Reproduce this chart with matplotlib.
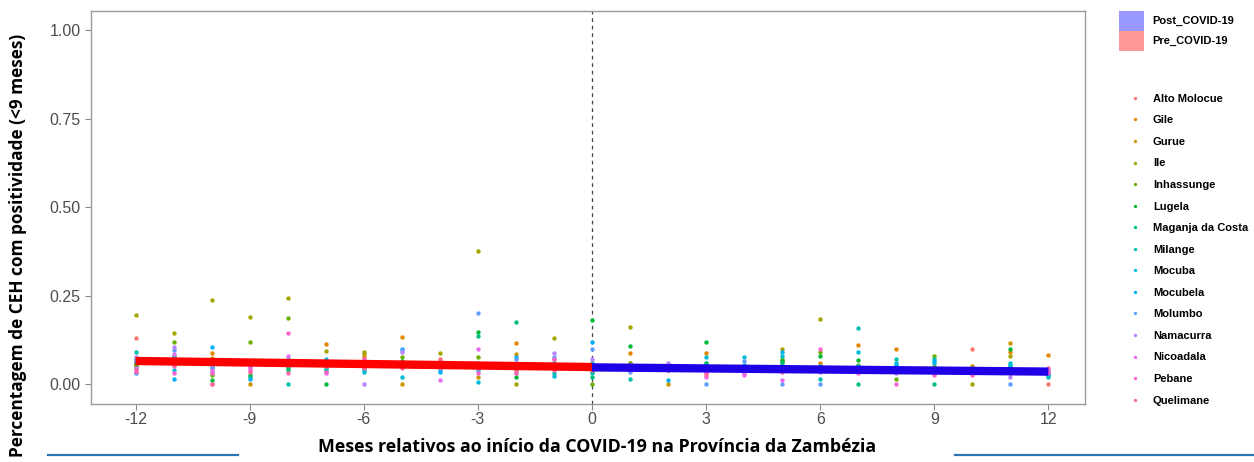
import matplotlib
matplotlib.use("Agg")
import matplotlib.pyplot as plt
from matplotlib.patches import Patch
from matplotlib.lines import Line2D

plt.rcParams["axes.unicode_minus"] = False

# meses relativos ao inicio da COVID-19
meses = list(range(-12, 13))

distritos = ["Alto Molocue", "Gile", "Gurue", "Ile", "Inhassunge", "Lugela",
             "Maganja da Costa", "Milange", "Mocuba", "Mocubela", "Molumbo",
             "Namacurra", "Nicoadala", "Pebane", "Quelimane"]

cores = ["#F8766D", "#E58700", "#C99800", "#A3A500", "#6BB100", "#00BA38",
         "#00BF7D", "#00C0AF", "#00BCD8", "#00B0F6", "#619CFF", "#B983FF",
         "#E76BF3", "#FD61D1", "#FF67A4"]

# proporcao de CEH positivas por distrito
alto_molocue = [0.13, 0.07, 0.0, 0.05, 0.05, 0.05, 0.05, 0.05, 0.07, 0.05, 0.04, 0.06, 0.05,
                0.05, 0.045, 0.03, 0.045, 0.045, 0.05, 0.045, 0.045, 0.04, 0.1, 0.04, 0.0]
gile = [0.06, 0.075, 0.088, 0.06, 0.05, 0.113, 0.075, 0.133, 0.05, 0.045, 0.115, 0.055, 0.06,
        0.087, 0.04, 0.088, 0.05, 0.065, 0.06, 0.11, 0.1, 0.045, 0.05, 0.09, 0.082]
gurue = [0.055, 0.06, 0.073, 0.0, 0.055, 0.055, 0.085, 0.0, 0.045, 0.02, 0.085, 0.07, 0.045,
         0.06, 0.0, 0.045, 0.04, 0.05, 0.045, 0.05, 0.05, 0.035, 0.045, 0.115, 0.035]
ile = [0.195, 0.145, 0.237, 0.19, 0.243, 0.093, 0.09, 0.06, 0.087, 0.376, 0.0, 0.13, 0.035,
       0.16, 0.05, 0.05, 0.045, 0.1, 0.183, 0.04, 0.045, 0.05, 0.0, 0.08, 0.03]
inhassunge = [0.05, 0.12, 0.025, 0.12, 0.187, 0.06, 0.06, 0.075, 0.06, 0.075, 0.03, 0.05, 0.0,
              0.06, 0.045, 0.06, 0.04, 0.07, 0.09, 0.055, 0.015, 0.08, 0.035, 0.035, 0.035]
lugela = [0.06, 0.055, 0.012, 0.025, 0.045, 0.0, 0.055, 0.065, 0.055, 0.147, 0.02, 0.05, 0.18,
          0.107, 0.05, 0.12, 0.05, 0.065, 0.08, 0.068, 0.04, 0.04, 0.04, 0.1, 0.03]
maganja = [0.045, 0.065, 0.035, 0.02, 0.04, 0.04, 0.045, 0.055, 0.06, 0.135, 0.175, 0.045, 0.02,
           0.045, 0.045, 0.06, 0.045, 0.06, 0.04, 0.0, 0.045, 0.0, 0.045, 0.05, 0.025]
milange = [0.09, 0.08, 0.05, 0.065, 0.0, 0.045, 0.04, 0.05, 0.05, 0.06, 0.045, 0.03, 0.03,
           0.015, 0.04, 0.05, 0.055, 0.045, 0.015, 0.158, 0.07, 0.07, 0.04, 0.055, 0.02]
mocuba = [0.07, 0.04, 0.045, 0.055, 0.065, 0.07, 0.035, 0.02, 0.04, 0.005, 0.05, 0.022, 0.06,
          0.05, 0.045, 0.075, 0.075, 0.08, 0.05, 0.09, 0.06, 0.06, 0.035, 0.06, 0.025]
mocubela = [0.03, 0.015, 0.105, 0.015, 0.07, 0.065, 0.065, 0.1, 0.035, 0.04, 0.075, 0.06, 0.12,
            0.04, 0.01, 0.045, 0.045, 0.09, 0.04, 0.05, 0.055, 0.065, 0.04, 0.045, 0.03]
molumbo = [0.065, 0.095, 0.06, 0.065, 0.06, 0.06, 0.06, 0.095, 0.055, 0.2, 0.07, 0.075, 0.1,
           0.035, 0.05, 0.0, 0.065, 0.0, 0.0, 0.045, 0.04, 0.04, 0.03, 0.0, 0.04]
namacurra = [0.075, 0.105, 0.055, 0.05, 0.055, 0.06, 0.0, 0.09, 0.045, 0.055, 0.06, 0.088, 0.07,
             0.04, 0.06, 0.04, 0.03, 0.04, 0.035, 0.035, 0.03, 0.035, 0.035, 0.02, 0.04]
nicoadala = [0.045, 0.085, 0.04, 0.045, 0.08, 0.03, 0.055, 0.055, 0.012, 0.1, 0.055, 0.045, 0.05,
             0.055, 0.045, 0.02, 0.025, 0.01, 0.045, 0.045, 0.035, 0.03, 0.03, 0.04, 0.03]
pebane = [0.035, 0.03, 0.03, 0.04, 0.144, 0.035, 0.07, 0.06, 0.05, 0.03, 0.03, 0.07, 0.045,
          0.045, 0.04, 0.035, 0.035, 0.045, 0.1, 0.03, 0.0, 0.025, 0.025, 0.035, 0.035]
quelimane = [0.04, 0.05, 0.0, 0.035, 0.03, 0.05, 0.045, 0.045, 0.065, 0.045, 0.04, 0.04, 0.04,
             0.05, 0.045, 0.025, 0.04, 0.035, 0.04, 0.04, 0.04, 0.04, 0.04, 0.03, 0.045]

valores = [alto_molocue, gile, gurue, ile, inhassunge, lugela, maganja, milange, mocuba,
           mocubela, molumbo, namacurra, nicoadala, pebane, quelimane]

# linhas de tendencia (inicio e fim de cada periodo)
pre_x = [-12, 0]
pre_y = [0.065, 0.048]
pos_x = [0, 12]
pos_y = [0.047, 0.035]

W, H = 1254, 462
fig = plt.figure(figsize=(W / 100, H / 100), dpi=100)
ax = fig.add_axes([91 / W, 58 / H, (1085 - 91) / W, (404 - 11) / H])

for nome, cor, vals in zip(distritos, cores, valores):
    ax.scatter(meses, vals, s=10, color=cor, linewidths=0, zorder=3)

ax.plot(pre_x, pre_y, color="#FF0000", lw=6, solid_capstyle="butt", zorder=4)
ax.plot(pos_x, pos_y, color="#1F00E6", lw=6, solid_capstyle="butt", zorder=5)
ax.axvline(0, color="#444444", lw=0.9, ls=(0, (3, 3)), zorder=2)

ax.set_xlim(-13.17, 12.96)
ax.set_ylim(-0.0565, 1.054)
ax.set_xticks([-12, -9, -6, -3, 0, 3, 6, 9, 12])
ax.set_yticks([0, 0.25, 0.5, 0.75, 1.0])
ax.set_yticklabels(["0.00", "0.25", "0.50", "0.75", "1.00"])
ax.tick_params(colors="#8a8a8a", length=4, width=0.8, labelsize=11.5,
               labelcolor="#4d4d4d")
ax.tick_params(axis="x", pad=2)
for lab in ax.get_xticklabels() + ax.get_yticklabels():
    lab.set_fontfamily("Liberation Sans")
for s in ax.spines.values():
    s.set_color("#9a9a9a")
    s.set_linewidth(1.0)

fig.text(18 / W, (H - 245) / H, "Percentagem de CEH com positividade (<9 meses)",
         rotation=90, ha="center", va="center", fontsize=12.4,
         fontweight="bold", family="Open Sans", color="black")
fig.text(597 / W, (H - 447) / H,
         "Meses relativos ao início da COVID-19 na Província da Zambézia",
         ha="center", va="center", fontsize=12.8, fontweight="bold",
         family="Open Sans", color="black")

# linhas azuis do documento
fig.add_artist(Line2D([48 / W, 238 / W], [(H - 455) / H] * 2, color="#2E75B6", lw=1.6))
fig.add_artist(Line2D([955 / W, 1.0], [(H - 455) / H] * 2, color="#2E75B6", lw=1.6))

# legenda periodo
h1 = [Patch(facecolor="#9999FF", edgecolor="none"), Patch(facecolor="#FF9999", edgecolor="none")]
leg1 = fig.legend(h1, ["Post_COVID-19", "Pre_COVID-19"], loc="upper left",
                  bbox_to_anchor=(1111 / W, 1 - 3 / H), frameon=False,
                  prop={"family": "Liberation Sans", "weight": "bold", "size": 8},
                  handlelength=2.25, handleheight=2.4, labelspacing=0.0,
                  handletextpad=0.8, borderpad=0.2)

# legenda distritos
h2 = [Line2D([], [], marker="o", ls="none", ms=2.4, color=c, mew=0) for c in cores]
leg2 = fig.legend(h2, distritos, loc="upper left",
                  bbox_to_anchor=(1124 / W, 1 - 86 / H), frameon=False,
                  prop={"family": "Liberation Sans", "weight": "bold", "size": 8},
                  handlelength=0.6, labelspacing=1.04, handletextpad=1.3,
                  borderpad=0.2)

fig.savefig("out.png", dpi=100, facecolor="white")
